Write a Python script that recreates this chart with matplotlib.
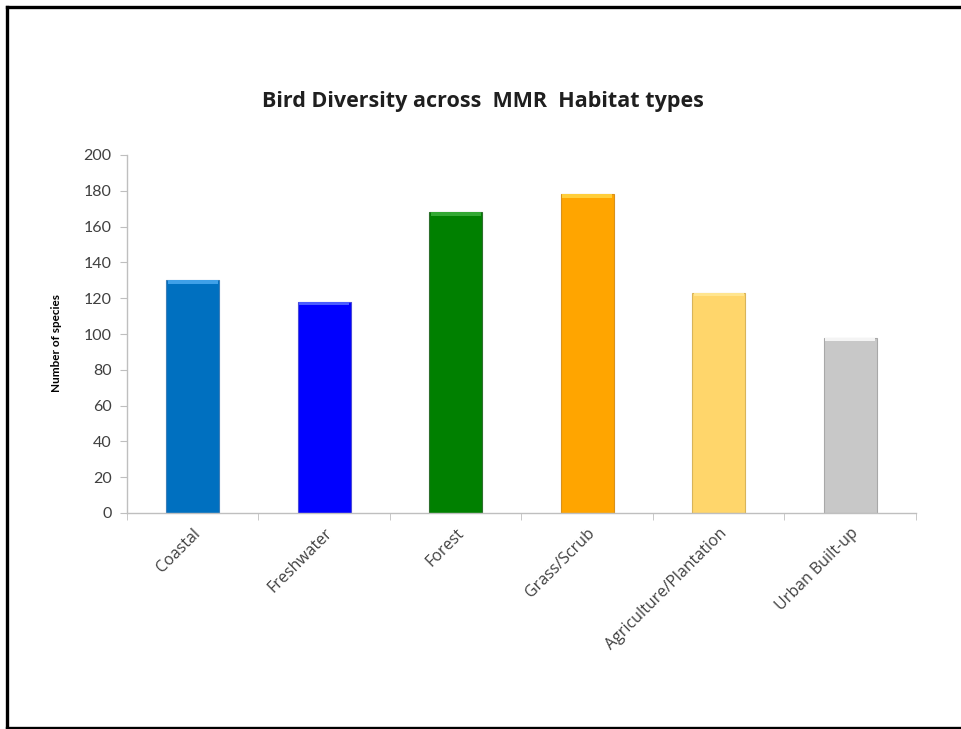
import matplotlib
matplotlib.use("Agg")
import matplotlib.pyplot as plt
from matplotlib.lines import Line2D
import numpy as np

habitats = ["Coastal", "Freshwater", "Forest", "Grass/Scrub",
            "Agriculture/Plantation", "Urban Built-up"]
species = [130, 118, 168, 178, 123, 98]
bar_colors = ["#0070C0", "#0000FF", "#008000", "#FFA500", "#FFD66B", "#C8C8C8"]
top_colors = ["#3FA0E8", "#4A5CFF", "#33A833", "#FFCE3A", "#FFE58F", "#F4F4F4"]
edge_colors = ["#3D7FB8", "#4A4AD8", "#2E6F2E", "#D9911A", "#D8B45A", "#A8A8A8"]
y_ticks = [0, 20, 40, 60, 80, 100, 120, 140, 160, 180, 200]

plt.rcParams["font.family"] = ["Lato", "DejaVu Sans"]

fig = plt.figure(figsize=(9.62, 7.29), dpi=100)
ax = fig.add_axes([127 / 962, 1 - 513 / 729, (916 - 127) / 962, (513 - 155) / 729])

x = np.arange(len(habitats))
width = 0.4
ax.bar(x, species, width=width, color=bar_colors, edgecolor=edge_colors,
       linewidth=0.8, zorder=2)
# bevel highlight along the top of each bar
cap = 1.8
ax.bar(x, [cap] * len(x), bottom=np.array(species) - cap, width=width - 0.02,
       color=top_colors, linewidth=0, zorder=3)

ax.set_xlim(-0.5, len(habitats) - 0.5)
ax.set_ylim(0, 200)
ax.set_yticks(y_ticks)
ax.tick_params(axis="y", labelsize=11.5, colors="#404040", length=5,
               color="#BFBFBF", pad=6)
ax.set_xticks(x)
ax.set_xticklabels(habitats, rotation=45, ha="right", va="top",
                   rotation_mode="anchor", fontsize=11.5, color="#404040",
                   family=["Open Sans", "DejaVu Sans"])
ax.tick_params(axis="x", length=0, pad=9)
ax.set_xticks(np.arange(-0.5, len(habitats)), minor=True)
ax.tick_params(axis="x", which="minor", length=5, color="#BFBFBF")

for side in ("top", "right"):
    ax.spines[side].set_visible(False)
for side in ("left", "bottom"):
    ax.spines[side].set_color("#BFBFBF")
    ax.spines[side].set_linewidth(1.0)

fig.text(57 / 962, 1 - 343 / 729, "Number of species", rotation=90,
         fontsize=8.5, fontweight="bold", ha="center", va="center", color="#000000")

fig.text(483 / 962, 1 - 102 / 729, "Bird Diversity across  MMR  Habitat types",
         fontsize=15.5, fontweight="bold", ha="center", va="center", color="#1F1F1F",
         family=["Open Sans", "DejaVu Sans"])

# black frame on top, left and bottom edges
W, H = 962, 729
fig.add_artist(Line2D([7.5 / W, 1.0], [1 - 6.5 / H, 1 - 6.5 / H],
                      transform=fig.transFigure, color="black", linewidth=2.4))
fig.add_artist(Line2D([7.5 / W, 7.5 / W], [1 - 6.5 / H, 1 - 727.5 / H],
                      transform=fig.transFigure, color="black", linewidth=2.4))
fig.add_artist(Line2D([7.5 / W, 1.0], [1 - 727.5 / H, 1 - 727.5 / H],
                      transform=fig.transFigure, color="black", linewidth=2.4))

fig.savefig("out.png", dpi=100)
